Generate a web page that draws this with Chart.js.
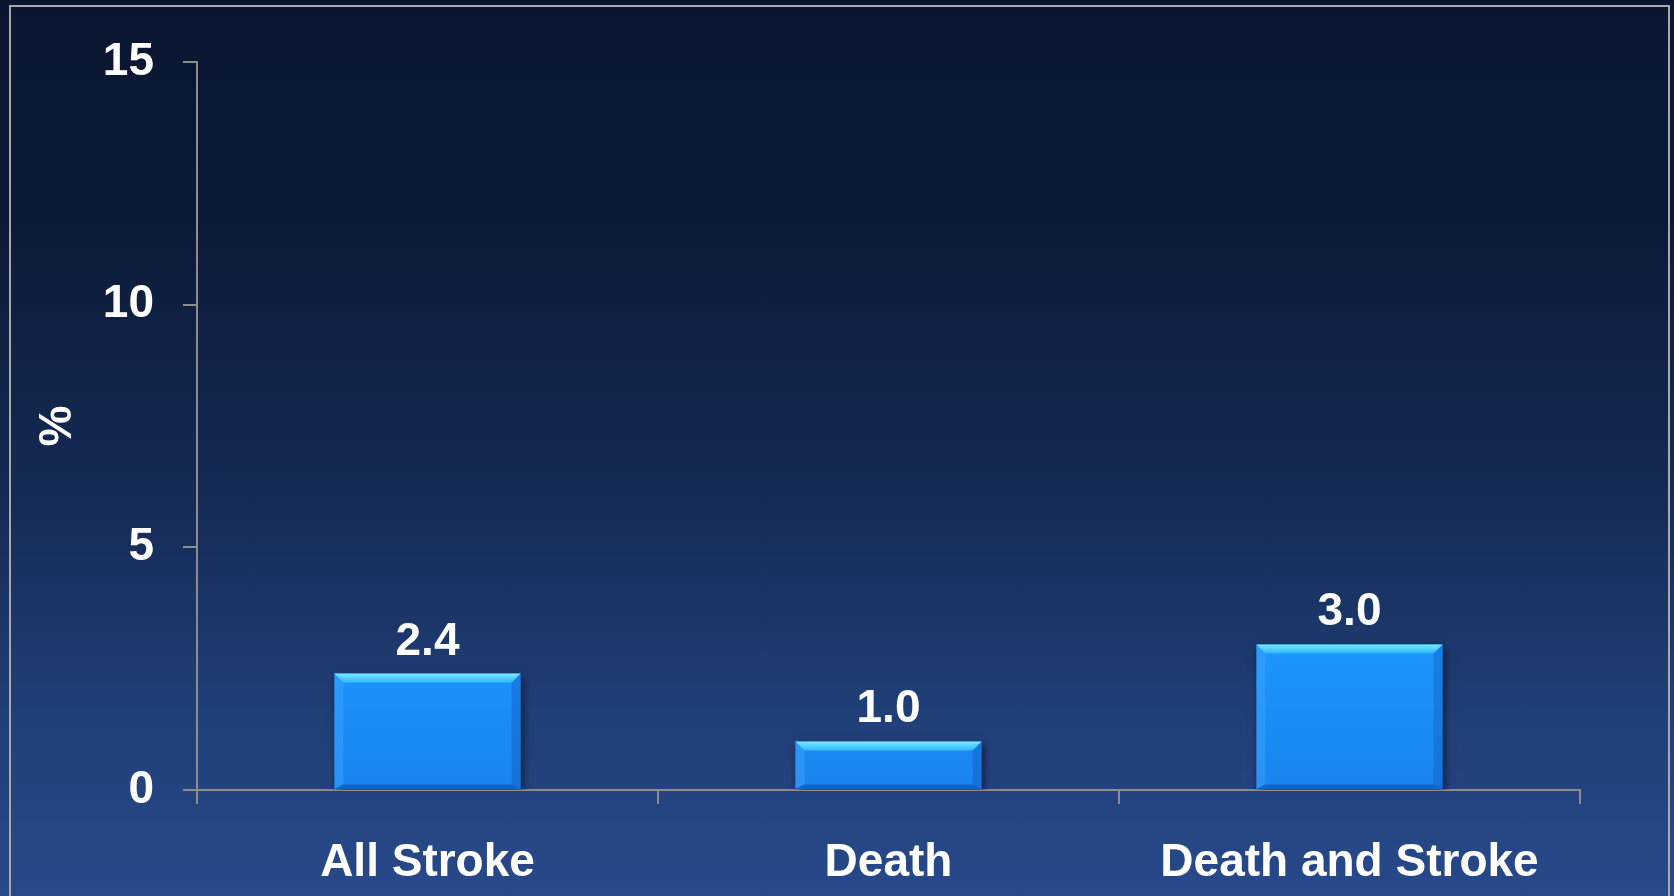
<!DOCTYPE html>
<html>
<head>
<meta charset="utf-8">
<script src="https://cdn.jsdelivr.net/npm/chart.js@4"></script>
<style>
  html, body { margin: 0; padding: 0; }
  body {
    width: 1674px; height: 896px; overflow: hidden; position: relative;
    background: linear-gradient(to bottom, #0a1631 0%, #0c1a37 25%, #152a55 55%, #213f78 80%, #28498a 100%);
  }
  #frame {
    position: absolute; left: 9px; top: 5px; width: 1661px; height: 920px;
    border: 2px solid #a9a9a9; box-sizing: border-box;
  }
  canvas { position: absolute; left: 0; top: 0; }
</style>
</head>
<body>
<div id="frame"></div>
<canvas id="chart" width="1674" height="896"></canvas>
<script>
const categories = ['All Stroke', 'Death', 'Death and Stroke'];
const values = [2.4, 1.0, 3.0];
const yTicks = [0, 5, 10, 15];

const axisGray = '#8c8c8c';
const fontFam = '"Liberation Sans", Arial, sans-serif';

// value labels above each bar
const valueLabels = {
  id: 'valueLabels',
  afterDatasetsDraw(chart) {
    const ctx = chart.ctx;
    const meta = chart.getDatasetMeta(0);
    ctx.save();
    ctx.fillStyle = '#ffffff';
    ctx.font = 'bold 46px ' + fontFam;
    ctx.textAlign = 'center';
    ctx.textBaseline = 'alphabetic';
    meta.data.forEach((bar, i) => {
      ctx.fillText(values[i].toFixed(1), bar.x, bar.y - 19);
    });
    ctx.restore();
  }
};

// bevel look + drop shadow for bars
const bevel = {
  id: 'bevel',
  beforeDatasetsDraw(chart) {
    const ctx = chart.ctx;
    ctx.save();
    ctx.shadowColor = 'rgba(0,0,0,0.55)';
    ctx.shadowBlur = 8;
    ctx.shadowOffsetX = 2;
    ctx.shadowOffsetY = 4;
  },
  afterDatasetsDraw(chart) {
    const ctx = chart.ctx;
    ctx.restore();
    const meta = chart.getDatasetMeta(0);
    const b = 9;
    ctx.save();
    meta.data.forEach(bar => {
      const l = bar.x - bar.width / 2, r = bar.x + bar.width / 2;
      const t = bar.y, bt = bar.base;
      // top
      let g = ctx.createLinearGradient(0, t, 0, t + b);
      g.addColorStop(0, '#7ae8ff');
      g.addColorStop(1, '#30b8ff');
      ctx.fillStyle = g;
      ctx.beginPath();
      ctx.moveTo(l, t); ctx.lineTo(r, t); ctx.lineTo(r - b, t + b); ctx.lineTo(l + b, t + b);
      ctx.closePath(); ctx.fill();
      // left
      ctx.fillStyle = 'rgba(80,180,255,0.3)';
      ctx.beginPath();
      ctx.moveTo(l, t); ctx.lineTo(l + b, t + b); ctx.lineTo(l + b, bt - b / 2); ctx.lineTo(l, bt);
      ctx.closePath(); ctx.fill();
      // right
      ctx.fillStyle = 'rgba(10,60,160,0.25)';
      ctx.beginPath();
      ctx.moveTo(r, t); ctx.lineTo(r - b, t + b); ctx.lineTo(r - b, bt - b / 2); ctx.lineTo(r, bt);
      ctx.closePath(); ctx.fill();
      // bottom
      ctx.fillStyle = 'rgba(10,50,140,0.4)';
      ctx.beginPath();
      ctx.moveTo(l, bt); ctx.lineTo(l + b, bt - b / 2); ctx.lineTo(r - b, bt - b / 2); ctx.lineTo(r, bt);
      ctx.closePath(); ctx.fill();
    });
    ctx.restore();
  }
};

new Chart(document.getElementById('chart'), {
  type: 'bar',
  data: {
    labels: categories,
    datasets: [{
      data: values,
      backgroundColor: (c) => {
        const area = c.chart.chartArea;
        if (!area) return '#1a8cff';
        const g = c.chart.ctx.createLinearGradient(0, area.bottom - 160, 0, area.bottom);
        g.addColorStop(0, '#1c98ff');
        g.addColorStop(1, '#1a84ee');
        return g;
      },
      borderWidth: 0,
      barPercentage: 0.404,
      categoryPercentage: 1
    }]
  },
  options: {
    responsive: false,
    animation: false,
    devicePixelRatio: 1,
    layout: { padding: { left: 0, top: 62, right: 94, bottom: 0 } },
    plugins: {
      legend: { display: false },
      tooltip: { enabled: false }
    },
    scales: {
      x: {
        afterFit: (s) => { s.height = 106; },
        grid: { display: true, drawOnChartArea: false, tickLength: 14, color: axisGray, lineWidth: 2, offset: true },
        border: { color: axisGray, width: 2 },
        ticks: { color: '#ffffff', padding: 32, font: { family: fontFam, size: 46, weight: 'bold' }, maxRotation: 0 }
      },
      y: {
        min: 0,
        max: 15,
        afterFit: (s) => { s.width = 197; },
        afterBuildTicks: (s) => { s.ticks = yTicks.map(v => ({ value: v })); },
        grid: { display: true, drawOnChartArea: false, tickLength: 14, color: axisGray, lineWidth: 2 },
        border: { color: axisGray, width: 2 },
        ticks: { color: '#ffffff', padding: 29, font: { family: fontFam, size: 46, weight: 'bold' } },
        title: {
          display: true,
          text: '%',
          color: '#ffffff',
          padding: { top: 31, bottom: 0 },
          font: { family: fontFam, size: 46, weight: 'bold' }
        }
      }
    }
  },
  plugins: [bevel, valueLabels]
});
</script>
</body>
</html>
